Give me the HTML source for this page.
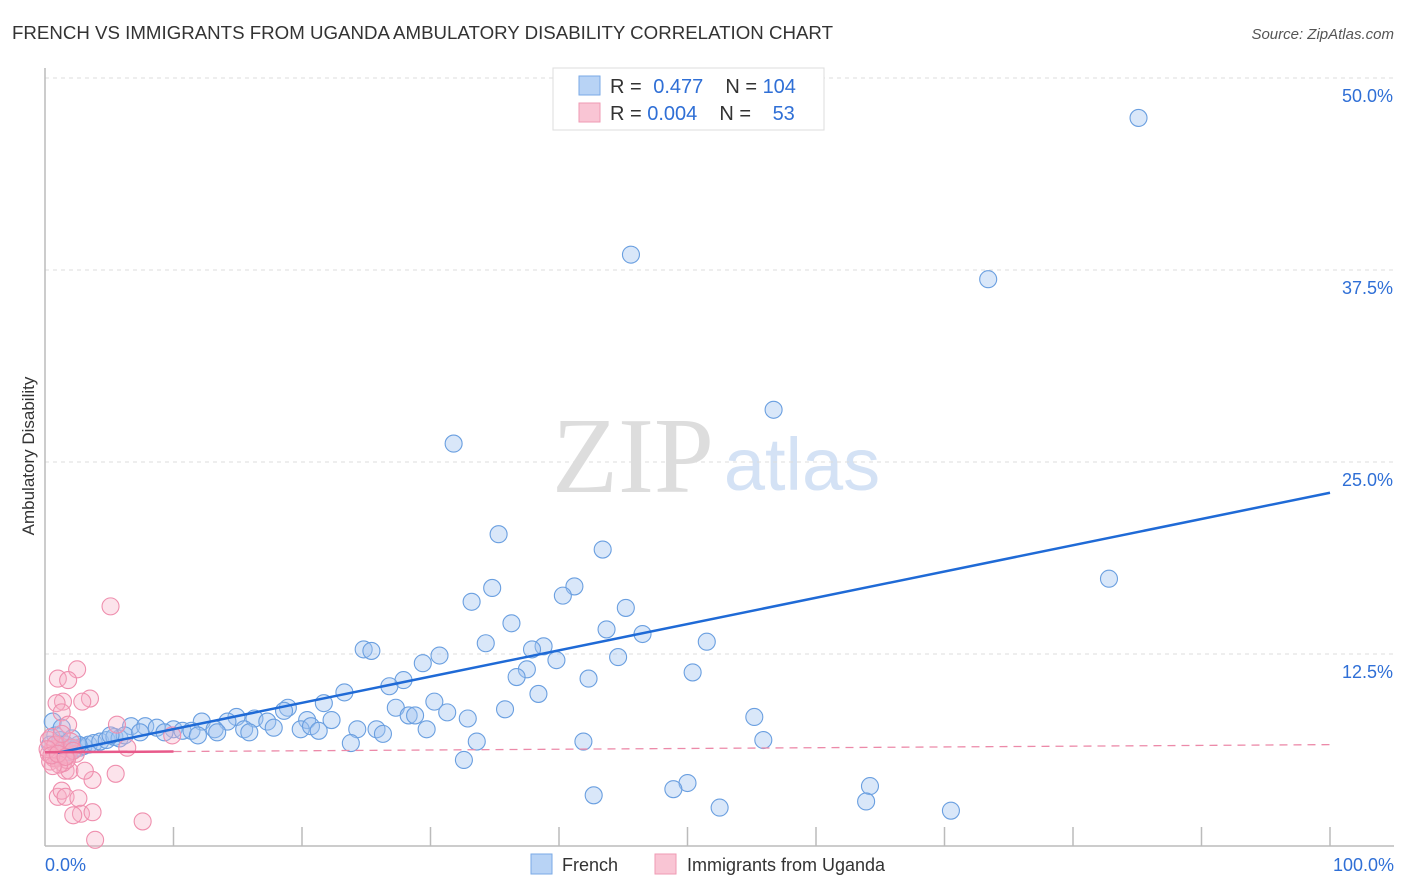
<!DOCTYPE html>
<html><head><meta charset="utf-8"><style>
body{margin:0;background:#fff;font-family:"Liberation Sans",sans-serif}
svg{display:block}
</style></head><body>
<svg width="1406" height="892" id="c">
<text x="12" y="39" font-size="18" fill="#333" textLength="821" lengthAdjust="spacingAndGlyphs">FRENCH VS IMMIGRANTS FROM UGANDA AMBULATORY DISABILITY CORRELATION CHART</text>
<text x="1394" y="39" font-size="15" fill="#555" font-style="italic" text-anchor="end">Source: ZipAtlas.com</text>
<text x="34" y="456" font-size="17" fill="#333" text-anchor="middle" transform="rotate(-90 34 456)">Ambulatory Disability</text>
<g><text x="633" y="492" font-size="108" fill="#ddd" font-family="Liberation Serif,serif" text-anchor="middle">ZIP</text><text x="802" y="490" font-size="74" fill="#d4e2f5" text-anchor="middle">atlas</text></g>
<g id="grid"></g><g id="ticks"></g><g id="pts"></g><g id="trend"></g>
<g>
<rect x="553" y="68" width="271" height="62" fill="#fff" stroke="#ddd"/>
<rect x="579" y="76" width="21" height="19" fill="#b8d3f5" stroke="#7aa9e6"/>
<rect x="579" y="103" width="21" height="19" fill="#f9c5d4" stroke="#ef9ab3"/>
<text x="610" y="93" font-size="20" fill="#333">R = <tspan fill="#2f6fd6" dx="6">0.477</tspan><tspan dx="22" fill="#333">N = </tspan><tspan fill="#2f6fd6">104</tspan></text>
<text x="610" y="120" font-size="20" fill="#333">R = <tspan fill="#2f6fd6">0.004</tspan><tspan dx="22" fill="#333">N = </tspan><tspan fill="#2f6fd6" dx="16">53</tspan></text>
</g>
<g>
<rect x="531" y="854" width="21" height="20" fill="#b8d3f5" stroke="#7aa9e6"/>
<text x="562" y="871" font-size="18" fill="#333">French</text>
<rect x="655" y="854" width="21" height="20" fill="#f9c5d4" stroke="#ef9ab3"/>
<text x="687" y="871" font-size="18" fill="#333">Immigrants from Uganda</text>
</g>
<text x="45" y="871" font-size="18" fill="#2f6fd6">0.0%</text>
<text x="1394" y="871" font-size="18" fill="#2f6fd6" text-anchor="end">100.0%</text>
</svg>
<script>
const yTicks=[12.5,25,37.5,50];
const yTickLabels=["12.5%","25.0%","37.5%","50.0%"];
const blueX=[85.1,45.6,73.4,56.7,31.8,35.3,43.4,82.8,34.8,41.2,40.3,33.2,45.2,36.3,43.7,46.5,34.3,51.5,38.8,24.8,25.4,37.9,30.7,39.8,44.6,29.4,37.5,36.7,42.3,50.4,27.9,26.8,23.3,38.4,21.7,30.3,18.9,18.6,27.3,31.3,35.8,28.3,28.8,55.2,32.9,22.3,20.4,14.9,16.3,17.3,12.2,14.2,19.9,20.7,21.3,24.3,25.8,26.3,29.7,17.8,15.5,13.2,13.4,15.9,6.7,7.8,8.7,10.0,10.7,11.4,11.9,23.8,33.6,41.9,55.9,32.6,50.0,48.9,64.2,42.7,63.9,52.5,70.5,0.6,0.8,1.2,1.6,1.9,2.3,2.7,3.0,3.4,3.8,4.3,4.8,5.4,5.8,6.2,1.0,1.8,2.6,0.4,1.3,2.1,5.1,7.4,9.3];
const blueY=[47.4,38.5,36.9,28.4,26.2,20.3,19.3,17.4,16.8,16.9,16.3,15.9,15.5,14.5,14.1,13.8,13.2,13.3,13.0,12.8,12.7,12.8,12.4,12.1,12.3,11.9,11.5,11.0,10.9,11.3,10.8,10.4,10.0,9.9,9.3,9.4,9.0,8.8,9.0,8.7,8.9,8.5,8.5,8.4,8.3,8.2,8.2,8.4,8.3,8.1,8.1,8.1,7.6,7.8,7.5,7.6,7.6,7.3,7.6,7.7,7.6,7.6,7.4,7.4,7.8,7.8,7.7,7.6,7.5,7.5,7.2,6.7,6.8,6.8,6.9,5.6,4.1,3.7,3.9,3.3,2.9,2.5,2.3,8.1,7.2,6.9,6.6,6.4,6.3,6.4,6.5,6.6,6.7,6.8,6.9,7.1,7.0,7.2,5.9,6.1,6.6,6.6,7.7,7.0,7.2,7.4,7.4];
const pinkX=[5.1,2.5,1.0,1.8,1.4,0.9,3.5,2.9,1.3,1.8,5.6,9.9,6.4,0.9,1.6,1.9,3.7,5.5,1.0,1.3,1.6,2.6,2.8,2.2,3.7,7.6,3.9,3.1,0.3,0.6,0.9,1.2,1.5,1.8,2.1,2.4,0.4,0.7,1.0,1.4,1.7,2.0,0.3,0.5,0.8,1.1,0.2,0.6,1.3,2.2,0.5,1.0,1.6];
const pinkY=[15.6,11.5,10.9,10.8,9.4,9.3,9.6,9.4,8.7,7.9,7.9,7.2,6.4,5.7,4.9,4.9,4.3,4.7,3.2,3.6,3.2,3.1,2.1,2.0,2.2,1.6,0.4,4.9,6.0,6.3,5.8,6.5,6.1,5.9,6.4,6.0,5.5,5.7,6.2,5.4,5.6,6.8,6.9,7.1,6.6,5.3,6.3,5.2,7.3,6.2,5.9,6.0,5.8];
const blueTrend=[5.9,23.0];
const pinkTrend=[6.1,6.6];
const X=v=>45+v*12.85, Y=v=>846-v*15.36;
const NS="http://www.w3.org/2000/svg";
function mk(t,a,p){const e=document.createElementNS(NS,t);for(const k in a)e.setAttribute(k,a[k]);p.appendChild(e);return e;}
const grid=document.getElementById('grid'),ticks=document.getElementById('ticks'),pts=document.getElementById('pts'),tr=document.getElementById('trend');
yTicks.forEach((t,i)=>{
 const l=mk('line',{x1:45,x2:1394,y1:Y(t),y2:Y(t),stroke:'#ddd','stroke-dasharray':'4,4'},grid);
 
 
 const tx=mk('text',{x:1393,y:Y(t)+24,'font-size':18,fill:'#2f6fd6','text-anchor':'end'},grid);
 tx.textContent=yTickLabels[i];
 
 
});
const ax=mk('line',{x1:45,x2:45,y1:68,y2:846,stroke:'#bbb','stroke-width':1.5},ticks);


const bx=mk('line',{x1:45,x2:1394,y1:846,y2:846,stroke:'#bbb','stroke-width':1.5},ticks);


for(let i=1;i<=10;i++){const t=mk('line',{x1:X(i*10),x2:X(i*10),y1:827,y2:846,stroke:'#bbb','stroke-width':1.5},ticks);
 
 }
blueX.forEach((x,i)=>{const c=mk('circle',{cx:X(x),cy:Y(blueY[i]),r:8.5,fill:'rgba(160,196,240,0.4)',stroke:'#6a9fe0','stroke-width':1.1},pts);
 
 });
pinkX.forEach((x,i)=>{const c=mk('circle',{cx:X(x),cy:Y(pinkY[i]),r:8.5,fill:'rgba(246,176,198,0.35)',stroke:'#ef8fae','stroke-width':1.1},pts);
 
 });
const bl=mk('line',{x1:X(1),y1:Y(blueTrend[0]+(blueTrend[1]-blueTrend[0])*0.01),x2:X(100),y2:Y(blueTrend[1]),stroke:'#1f6ad6','stroke-width':2.5},tr);


const pf=v=>pinkTrend[0]+(pinkTrend[1]-pinkTrend[0])*v/100;
const ps=mk('line',{x1:X(0),y1:Y(pf(0)),x2:X(10),y2:Y(pf(10)),stroke:'#e8598a','stroke-width':2.5},tr);


const pd=mk('line',{x1:X(10),y1:Y(pf(10)),x2:X(100),y2:Y(pf(100)),stroke:'#ec8aa9','stroke-width':1.3,'stroke-dasharray':'8,6'},tr);


</script>
</body></html>
